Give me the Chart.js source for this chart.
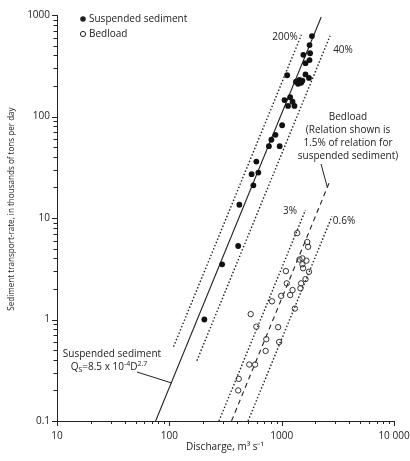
<!DOCTYPE html>
<html lang="en">
<head>
<meta charset="UTF-8">
<title>Sediment transport-rate vs discharge</title>
<script src="https://cdn.jsdelivr.net/npm/chart.js"></script>
<style>
  body { margin: 0; background: #fff; }
  canvas { display: block; }
</style>
</head>
<body>
<canvas id="sedChart" width="410" height="461"></canvas>
<script>
// discharge in m3/s, transport rate in thousands of tons per day
const suspendedQ = [1860, 1770, 1790, 1560, 1770, 1630, 1120, 1630, 1750, 1440, 1340, 1490, 1400, 1530,
                    1060, 1190, 1250, 1140, 1300, 1010, 880, 810, 770, 960, 595, 540, 620, 560, 420, 410, 295, 205];
const suspendedLoad = [620, 505, 420, 405, 360, 335, 255, 260, 240, 230, 220, 215, 210, 225,
                       145, 155, 140, 127, 127, 82, 66, 59, 51, 51, 36, 27, 28, 21, 13.5, 5.3, 3.5, 1.0];

const bedloadQ = [1375, 1690, 1720, 1440, 1530, 1660, 1530, 1550, 1750, 1090, 1630, 1490, 1110, 1470, 1250,
                  1190, 990, 820, 1310, 530, 595, 930, 730, 950, 720, 515, 580, 415, 410];
const bedloadLoad = [7.1, 5.8, 5.2, 3.9, 4.0, 3.8, 3.5, 3.2, 2.95, 3.0, 2.5, 2.27, 2.27, 2.03, 1.95,
                     1.74, 1.71, 1.51, 1.28, 1.13, 0.85, 0.84, 0.64, 0.60, 0.49, 0.36, 0.36, 0.26, 0.20];

const xTickLabels = ['10', '100', '1000', '10 000'];
const yTickLabels = ['0.1', '1', '10', '100', '1000'];

// Qs = 8.5 x 10^-4 D^2.7 (tons per day)
const relCoef = 8.5e-4;
const relExp = 2.7;
// multiples of the suspended relation: fit, 200%, 40%, bedload 1.5%, 3%, 0.6%
const lineFactors = [1, 2, 0.4, 0.015, 0.03, 0.006];
const lineStartQ = [null, 109, 176, null, null, null]; // null = starts at the 0.1 line
const lineEndQ = [2250, 1500, 2700, 2700, 1630, 2800];

const yMin = 0.1, yMax = 1000, xMin = 10, xMax = 10000;
const ink = '#222';

function relation(q, f) {
  return f * relCoef * Math.pow(q, relExp) / 1000;
}
function dischargeAt(load, f) {
  return Math.pow(load * 1000 / (f * relCoef), 1 / relExp);
}

function logTicks(min, max) {
  const out = [];
  for (let e = Math.round(Math.log10(min)); e < Math.round(Math.log10(max)); e++) {
    for (let m = 1; m < 10; m++) out.push(m * Math.pow(10, e));
  }
  out.push(max);
  return out;
}
function isDecade(v) {
  const l = Math.log10(v);
  return Math.abs(l - Math.round(l)) < 1e-6;
}

const lineStyles = [
  { borderDash: [], borderWidth: 1.1 },
  { borderDash: [1.5, 2], borderWidth: 1.4 },
  { borderDash: [1.5, 2], borderWidth: 1.4 },
  { borderDash: [5, 4], borderWidth: 1.1 },
  { borderDash: [1.5, 2], borderWidth: 1.4 },
  { borderDash: [1.5, 2], borderWidth: 1.4 }
];

const lineSets = lineFactors.map((f, i) => {
  const start = lineStartQ[i] || dischargeAt(yMin, f);
  return {
    type: 'scatter',
    showLine: true,
    data: [{ x: start, y: relation(start, f) }, { x: lineEndQ[i], y: relation(lineEndQ[i], f) }],
    borderColor: ink,
    borderWidth: lineStyles[i].borderWidth,
    borderDash: lineStyles[i].borderDash,
    pointRadius: 0,
    fill: false
  };
});

// tick marks, legend and the notes on the plot
const decorPlugin = {
  id: 'decor',
  afterDraw(chart) {
    const { ctx, scales: { x, y } } = chart;
    const area = chart.chartArea;
    ctx.save();
    ctx.strokeStyle = ink;
    ctx.fillStyle = ink;
    ctx.lineWidth = 1;

    // tick marks, outward
    x.ticks.forEach(t => {
      const px = Math.round(x.getPixelForValue(t.value)) + 0.5;
      const len = isDecade(t.value) ? 5 : 3;
      ctx.beginPath();
      ctx.moveTo(px, area.bottom);
      ctx.lineTo(px, area.bottom + len);
      ctx.stroke();
    });
    y.ticks.forEach(t => {
      const py = Math.round(y.getPixelForValue(t.value)) + 0.5;
      const len = isDecade(t.value) ? 5 : 3.5;
      ctx.beginPath();
      ctx.moveTo(area.left, py);
      ctx.lineTo(area.left - len, py);
      ctx.stroke();
    });

    ctx.font = '10px "Open Sans"';
    ctx.textBaseline = 'middle';

    // legend
    ctx.beginPath();
    ctx.arc(83, 19, 2.8, 0, Math.PI * 2);
    ctx.fill();
    ctx.beginPath();
    ctx.arc(83, 34, 2.6, 0, Math.PI * 2);
    ctx.stroke();
    ctx.textAlign = 'left';
    ctx.fillText('Suspended sediment', 89, 19);
    ctx.fillText('Bedload', 89, 34);

    // band labels
    ctx.textAlign = 'center';
    ctx.fillText('200%', 285, 37);
    ctx.fillText('40%', 343, 50);
    ctx.fillText('3%', 290, 211);
    ctx.fillText('0.6%', 344, 221);

    ctx.fillText('Bedload', 348, 117);
    ctx.fillText('(Relation shown is', 348, 130);
    ctx.fillText('1.5% of relation for', 348, 143);
    ctx.fillText('suspended sediment)', 348, 156);

    // leader to the bedload line
    const bq = 2550;
    ctx.beginPath();
    ctx.moveTo(321, 164);
    ctx.lineTo(x.getPixelForValue(bq), y.getPixelForValue(relation(bq, 0.015)));
    ctx.stroke();

    // suspended sediment relation note
    ctx.fillText('Suspended sediment', 112, 354);
    const parts = [
      ['Q', 0, 10], ['S', 2.5, 7], ['=8.5 x 10', 0, 10], ['-4', -3, 7], ['D', 0, 10], ['2.7', -3, 7]
    ];
    let total = 0;
    parts.forEach(p => { ctx.font = p[2] + 'px "Open Sans"'; total += ctx.measureText(p[0]).width; });
    let cx = 109 - total / 2;
    ctx.textAlign = 'left';
    parts.forEach(p => {
      ctx.font = p[2] + 'px "Open Sans"';
      ctx.fillText(p[0], cx, 367 + p[1]);
      cx += ctx.measureText(p[0]).width;
    });
    const sq = 104;
    ctx.beginPath();
    ctx.moveTo(137, 372);
    ctx.lineTo(x.getPixelForValue(sq), y.getPixelForValue(relation(sq, 1)));
    ctx.stroke();

    // axis titles
    ctx.font = '10px "Open Sans"';
    ctx.textAlign = 'center';
    ctx.fillText('Discharge, m\u00b3 s\u207b\u00b9', 225, 447);
    ctx.save();
    ctx.translate(12, 209);
    ctx.rotate(-Math.PI / 2);
    ctx.font = '8.1px "Open Sans"';
    ctx.fillText('Sediment transport-rate, in thousands of tons per day', 0, 0);
    ctx.restore();

    ctx.restore();
  }
};

new Chart(document.getElementById('sedChart'), {
  type: 'scatter',
  data: {
    datasets: [
      {
        label: 'Suspended sediment',
        data: suspendedQ.map((q, i) => ({ x: q, y: suspendedLoad[i] })),
        backgroundColor: '#111',
        borderColor: '#111',
        borderWidth: 0,
        pointRadius: 2.9
      },
      {
        label: 'Bedload',
        data: bedloadQ.map((q, i) => ({ x: q, y: bedloadLoad[i] })),
        backgroundColor: 'rgba(255,255,255,0)',
        borderColor: '#333',
        borderWidth: 1,
        pointRadius: 2.7
      },
      ...lineSets
    ]
  },
  options: {
    responsive: false,
    animation: false,
    events: [],
    layout: { padding: { left: 0, top: 15, right: 16, bottom: 0 } },
    plugins: { legend: { display: false }, tooltip: { enabled: false } },
    scales: {
      x: {
        type: 'logarithmic',
        min: xMin,
        max: xMax,
        afterFit: s => { s.height = 40; s.paddingLeft = 0; s.paddingRight = 0; },
        afterBuildTicks: s => { s.ticks = logTicks(xMin, xMax).map(v => ({ value: v })); },
        grid: { display: false, drawTicks: false },
        border: { display: true, color: ink, width: 1 },
        ticks: {
          autoSkip: false,
          maxRotation: 0,
          padding: 9,
          color: ink,
          font: { family: 'Open Sans', size: 10 },
          callback: v => isDecade(v) ? xTickLabels[Math.round(Math.log10(v)) - 1] : ''
        }
      },
      y: {
        type: 'logarithmic',
        min: yMin,
        max: yMax,
        afterFit: s => { s.width = 57; s.paddingTop = 0; s.paddingBottom = 0; },
        afterBuildTicks: s => { s.ticks = logTicks(yMin, yMax).map(v => ({ value: v })); },
        grid: { display: false, drawTicks: false },
        border: { display: true, color: ink, width: 1 },
        ticks: {
          autoSkip: false,
          padding: 7,
          color: ink,
          font: { family: 'Open Sans', size: 10 },
          callback: v => isDecade(v) ? yTickLabels[Math.round(Math.log10(v)) + 1] : ''
        }
      }
    }
  },
  plugins: [decorPlugin]
});
</script>
</body>
</html>
